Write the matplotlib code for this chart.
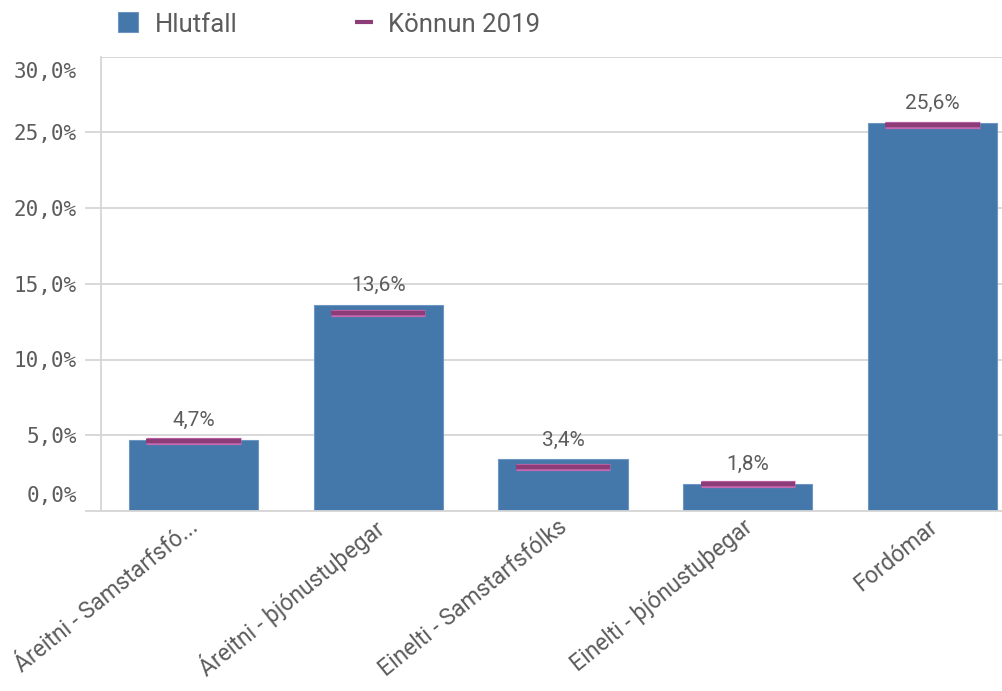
import matplotlib
matplotlib.use('Agg')
import matplotlib.pyplot as plt
import matplotlib.patheffects as pe
from matplotlib.patches import Rectangle
from matplotlib.lines import Line2D
from matplotlib.transforms import ScaledTranslation
import numpy as np


categories = ['Áreitni - Samstarfsfó...', 'Áreitni - þjónustuþegar',
              'Einelti - Samstarfsfólks', 'Einelti - þjónustuþegar', 'Fordómar']
hlutfall   = [4.7, 13.6, 3.4, 1.8, 25.6]
konnun2019 = [4.6, 13.1, 2.9, 1.8, 25.5]
yticks     = [0, 5, 10, 15, 20, 25, 30]
legend_labels = ['Hlutfall', 'Könnun 2019']

BAR    = '#4477aa'
MARK   = '#8c3d78'
MARKED = '#c56ab0'
GRID   = '#d6d6d6'
TXT    = '#5c5c5c'
NUMFONT = 'DejaVu Sans Mono'
TXTFONT = 'Roboto'

W, H = 1003, 691
fig = plt.figure(figsize=(W / 100, H / 100), dpi=100)
ax = fig.add_axes([101 / W, 180 / H, 924 / W, 454.5 / H])

x = np.arange(len(categories))
ax.bar(x, hlutfall, width=0.70, color=BAR, edgecolor='#6e96c2', linewidth=0.8, zorder=2)

# benchmark markers (Könnun 2019)
marks = ax.hlines(konnun2019, x - 0.255, x + 0.255, colors=MARK, linewidth=3.2, zorder=3,
                  path_effects=[pe.Stroke(linewidth=5.2, foreground=MARKED), pe.Normal()])
marks.set_capstyle('butt')

for xi, v in zip(x, hlutfall):
    ax.annotate(f'{v:.1f}'.replace('.', ',') + '%', (xi, v), xytext=(0, 10),
                textcoords='offset points', ha='center', va='baseline',
                fontsize=15, color=TXT, family=TXTFONT)

ax.set_xlim(-0.5, len(categories) - 0.5)
ax.set_ylim(0, 30)
ax.set_yticks(yticks)
ax.set_yticklabels([f'{t:.1f}'.replace('.', ',') + '%' for t in yticks],
                   family=NUMFONT, fontsize=15, color=TXT)
ax.yaxis.grid(True, color=GRID, linewidth=1.3, zorder=0)
ax.set_axisbelow(True)
ax.tick_params(axis='y', length=11.5, width=1.3, color=GRID, pad=6.0)
ax.tick_params(axis='x', length=0, pad=3)
ax.yaxis.get_major_ticks()[-1].tick1line.set_visible(False)

# nudge the end labels inward like the original
labs = ax.get_yticklabels()
labs[0].set_transform(labs[0].get_transform() + ScaledTranslation(0, 12 / 72, fig.dpi_scale_trans))
labs[-1].set_transform(labs[-1].get_transform() + ScaledTranslation(0, -9.5 / 72, fig.dpi_scale_trans))

ax.set_xticks(x)
ax.set_xticklabels(categories, rotation=39, ha='right', va='top', rotation_mode='anchor',
                   fontsize=16.5, color=TXT, family=TXTFONT)
for lab in ax.get_xticklabels():
    lab.set_transform(lab.get_transform() + ScaledTranslation(-4 / 72, 0, fig.dpi_scale_trans))

for s in ['top', 'right']:
    ax.spines[s].set_visible(False)
for s in ['left', 'bottom']:
    ax.spines[s].set_color(GRID)
    ax.spines[s].set_linewidth(1.3)

# legend drawn by hand at the top
fig.patches.append(Rectangle((118 / W, 1 - 32 / H), 20 / W, 20 / H, transform=fig.transFigure,
                             facecolor=BAR, edgecolor='#6e96c2', linewidth=0.8))
fig.text(155 / W, 1 - 22 / H, legend_labels[0], fontsize=18.5, color=TXT, family=TXTFONT,
         va='center_baseline')
fig.lines.append(Line2D([355 / W, 373 / W], [1 - 22 / H, 1 - 22 / H], transform=fig.transFigure,
                        color=MARK, linewidth=3, solid_capstyle='butt'))
fig.text(388 / W, 1 - 22 / H, legend_labels[1], fontsize=18.5, color=TXT, family=TXTFONT,
         va='center_baseline')

fig.savefig('out.png', dpi=100)
